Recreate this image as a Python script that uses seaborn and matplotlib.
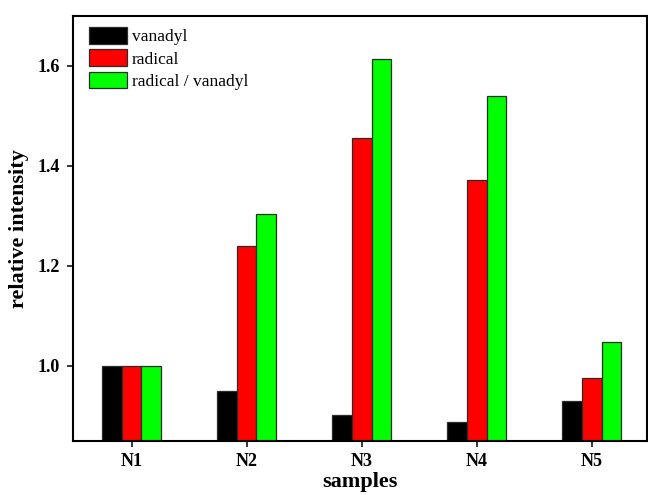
import matplotlib
matplotlib.use("Agg")
import matplotlib.pyplot as plt
import seaborn as sns
import pandas as pd

# Relative intensities per sample, normalised to N1
samples = ["N1", "N2", "N3", "N4", "N5"]
vanadyl = [1.000, 0.950, 0.902, 0.889, 0.931]
radical = [1.000, 1.241, 1.457, 1.373, 0.977]
ratio = [1.000, 1.305, 1.614, 1.541, 1.048]
series_names = ["vanadyl", "radical", "radical / vanadyl"]
series_colors = ["#000000", "#ff0000", "#00ff00"]
y_ticks = [1.0, 1.2, 1.4, 1.6]

df = pd.DataFrame({
    "sample": samples * 3,
    "value": vanadyl + radical + ratio,
    "series": [series_names[0]] * 5 + [series_names[1]] * 5 + [series_names[2]] * 5,
})

sns.set_theme(style="white")
plt.rcParams["font.family"] = ["Liberation Serif", "DejaVu Serif"]
plt.rcParams["text.color"] = "black"
plt.rcParams["axes.labelcolor"] = "black"
plt.rcParams["xtick.color"] = "black"
plt.rcParams["ytick.color"] = "black"

fig = plt.figure(figsize=(6.48, 4.95), dpi=100)
ax = fig.add_axes([73 / 648, 1 - 441 / 495, 574 / 648, 425 / 495])

sns.barplot(
    data=df, x="sample", y="value", hue="series",
    hue_order=series_names, palette=series_colors,
    width=0.51, gap=0, dodge=True, errorbar=None,
    edgecolor="#2b2b2b", linewidth=0.9, saturation=1, ax=ax,
)

ax.set_ylim(0.85, 1.70)
ax.set_xlim(-0.51, 4.48)
ax.set_yticks(y_ticks)
ax.set_yticklabels([f"{t:.1f}" for t in y_ticks])

for side in ["left", "right", "top", "bottom"]:
    ax.spines[side].set_visible(True)
    ax.spines[side].set_color("black")
    ax.spines[side].set_linewidth(1.5)

ax.tick_params(axis="both", direction="out", length=4.5, width=1.1,
               colors="black", labelsize=13, pad=4)
ax.tick_params(axis="x", bottom=True)
ax.tick_params(axis="y", left=True, pad=5)
for lab in ax.get_xticklabels() + ax.get_yticklabels():
    lab.set_fontweight("bold")
    lab.set_color("black")

ax.set_xlabel("samples", fontsize=16, fontweight="bold", labelpad=1.5, color="black")
ax.set_ylabel("relative intensity", fontsize=16, fontweight="bold", labelpad=6, color="black")

leg = ax.legend(
    loc="upper left", bbox_to_anchor=(0.028, 0.974), frameon=False,
    fontsize=12.5, handlelength=2.2, handleheight=1.1,
    handletextpad=0.25, labelspacing=0.23, borderpad=0, borderaxespad=0,
)
for txt in leg.get_texts():
    txt.set_color("black")

fig.savefig("out.png", dpi=100)
